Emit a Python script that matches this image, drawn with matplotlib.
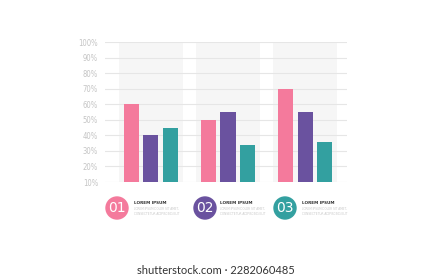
import matplotlib.pyplot as plt
from matplotlib.patches import Circle
import numpy as np

groups = ["01", "02", "03"]
series_a = [60, 50, 70]   # pink
series_b = [40, 55, 55]   # purple
series_c = [45, 34, 36]   # teal
ticks = [10, 20, 30, 40, 50, 60, 70, 80, 90, 100]
tick_labels = [f"{t}%" for t in ticks]
legend_title = "LOREM IPSUM"
legend_lines = ["LOREM IPSUM DOLOR SIT AMET,", "CONSECTETUR ADIPISCING ELIT"]

colors = ["#f47a9c", "#6a529f", "#33a0a0"]

W, H = 433, 280
fig = plt.figure(figsize=(W / 100, H / 100), dpi=100)
fig.patch.set_facecolor("white")

# main axes in pixel placement: x 105..347, y 42..182
ax = fig.add_axes([105 / W, 1 - 182 / H, (347 - 105) / W, (182 - 42) / H])
x = np.arange(len(groups))
bw = 0.195
off = 0.253

# light panels behind each group
ax.bar(x, 90, width=0.84, bottom=10, color="#f6f6f6", zorder=0)
for t in ticks:
    ax.axhline(t, color="#e6e6e6", lw=0.8, zorder=1)

for i, (vals, c) in enumerate(zip([series_a, series_b, series_c], colors)):
    ax.bar(x + (i - 1) * off, np.array(vals) - 10, bottom=10, width=bw,
           color=c, zorder=2)

ax.set_xlim(-0.597, 2.545)
ax.set_ylim(10, 100)
ax.set_yticks(ticks)
ax.set_yticklabels(tick_labels, fontsize=5.5, color="#c4c4c4", stretch="condensed")
ax.set_xticks([])
ax.tick_params(axis="y", length=0, pad=5)
for s in ax.spines.values():
    s.set_visible(False)
ax.set_facecolor("none")

# overlay for legend blocks, pixel coords
ov = fig.add_axes([0, 0, 1, 1])
ov.set_xlim(0, W)
ov.set_ylim(H, 0)
ov.axis("off")
ov.patch.set_alpha(0)

narrow = ["Liberation Sans Narrow", "DejaVu Sans"]
circle_x = [117, 205, 285]
text_x = [134, 220, 302]
for g, cx, tx, c in zip(groups, circle_x, text_x, colors):
    ov.add_patch(Circle((cx, 208), 11, color=c))
    ov.text(cx, 208.5, g, color="white", fontsize=10, ha="center", va="center",
            family=narrow)
    ov.text(tx, 203, legend_title, fontsize=3.0, fontweight="bold",
            color="#333333", va="center", family=narrow)
    ov.text(tx, 209, legend_lines[0], fontsize=2.1, color="#c8c8c8", va="center",
            family=narrow)
    ov.text(tx, 214, legend_lines[1], fontsize=2.1, color="#c8c8c8", va="center",
            family=narrow)

ov.text(216, 270.5, "shutterstock.com · 2282060485", fontsize=8,
        color="#333333", ha="center", va="center", family="Lato")

fig.savefig("out.png", dpi=100)
